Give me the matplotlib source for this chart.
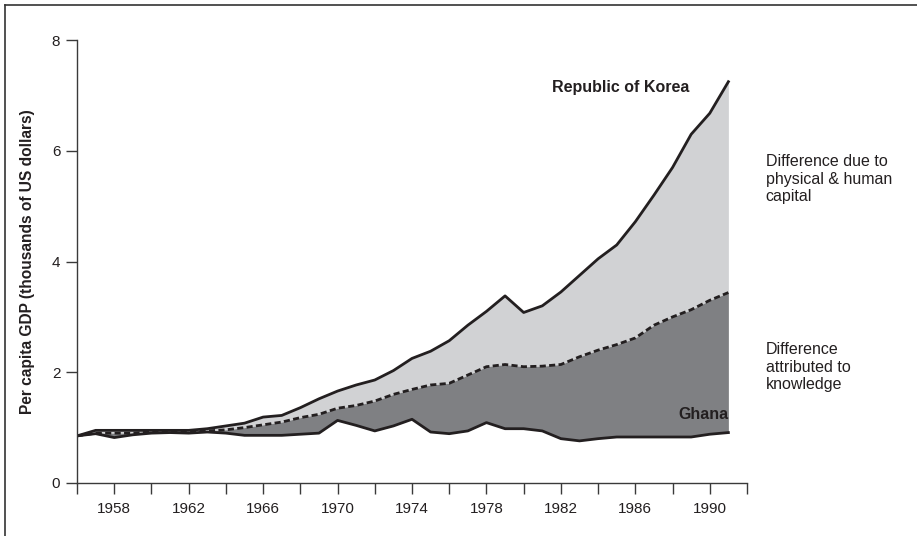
import numpy as np
import matplotlib
matplotlib.use('Agg')
import matplotlib.pyplot as plt
from matplotlib.lines import Line2D

plt.rcParams['font.family'] = ['Liberation Sans', 'DejaVu Sans']

# Per capita GDP, thousands of US dollars
years = list(range(1956, 1992))
korea = [0.85, 0.95, 0.95, 0.95, 0.95, 0.95, 0.95, 0.98, 1.03, 1.08,
         1.19, 1.22, 1.36, 1.52, 1.66, 1.77, 1.86, 2.03, 2.25, 2.38,
         2.57, 2.85, 3.10, 3.38, 3.08, 3.20, 3.45, 3.75, 4.05, 4.30,
         4.72, 5.20, 5.70, 6.30, 6.68, 7.25]
knowledge = [0.85, 0.90, 0.90, 0.90, 0.92, 0.93, 0.93, 0.94, 0.96, 1.00,
             1.05, 1.10, 1.18, 1.24, 1.35, 1.40, 1.48, 1.60, 1.69, 1.77,
             1.80, 1.95, 2.10, 2.14, 2.10, 2.11, 2.14, 2.28, 2.40, 2.50,
             2.62, 2.85, 3.00, 3.13, 3.30, 3.44]
ghana = [0.85, 0.89, 0.82, 0.87, 0.90, 0.91, 0.90, 0.92, 0.90, 0.86,
         0.86, 0.86, 0.88, 0.90, 1.13, 1.04, 0.94, 1.03, 1.15, 0.92,
         0.89, 0.94, 1.09, 0.98, 0.98, 0.94, 0.80, 0.76, 0.80, 0.83,
         0.83, 0.83, 0.83, 0.83, 0.88, 0.91]

ink = '#231f20'
light = '#d1d2d4'
dark = '#7f8083'

fig = plt.figure(figsize=(9.17, 5.36), dpi=100)
ax = fig.add_axes([0.084, 0.099, 0.7306, 0.826])

x = np.array(years)
ax.fill_between(x, knowledge, korea, color=light, lw=0)
ax.fill_between(x, ghana, knowledge, color=dark, lw=0)
ax.plot(x, korea, color=ink, lw=2)
ax.plot(x, knowledge, color=ink, lw=2, ls=(0, (2.2, 1.2)))
ax.plot(x, ghana, color=ink, lw=2)

ax.set_xlim(1956, 1992)
ax.set_ylim(0, 8)
ax.set_xticks(np.arange(1956, 1993, 2))
ax.set_xticklabels([str(y) if y % 4 == 2 else '' for y in range(1956, 1993, 2)])
ax.set_yticks([0, 2, 4, 6, 8])
for s in ['top', 'right']:
    ax.spines[s].set_visible(False)
for s in ['left', 'bottom']:
    ax.spines[s].set_color('#3a3a3a')
    ax.spines[s].set_linewidth(1.0)
ax.tick_params(axis='both', direction='out', length=8, width=1.0,
               color='#3a3a3a', labelsize=11, labelcolor=ink, pad=4)
ax.tick_params(axis='x', pad=6)
ax.set_ylabel('Per capita GDP (thousands of US dollars)', fontsize=11.2,
              fontweight='bold', color=ink, labelpad=12)

ax.text(1985.2, 7.14, 'Republic of Korea', fontsize=11.5, fontweight='bold',
        color=ink, ha='center', va='center')
ax.text(1991.0, 1.23, 'Ghana', fontsize=11.5, fontweight='bold',
        color=ink, ha='right', va='center')

fig.text(0.835, 0.666, 'Difference due to\nphysical & human\ncapital',
         fontsize=11.5, color=ink, ha='left', va='center', linespacing=1.2)
fig.text(0.835, 0.315, 'Difference\nattributed to\nknowledge',
         fontsize=11.5, color=ink, ha='left', va='center', linespacing=1.2)

# frame around the figure (top and left edges visible)
fig.add_artist(Line2D([5 / 917, 1.0], [1 - 5 / 536, 1 - 5 / 536],
                      transform=fig.transFigure, color='#333333', lw=1.2))
fig.add_artist(Line2D([5 / 917, 5 / 917], [0.0, 1 - 5 / 536],
                      transform=fig.transFigure, color='#333333', lw=1.2))

fig.savefig('out.png', dpi=100)
